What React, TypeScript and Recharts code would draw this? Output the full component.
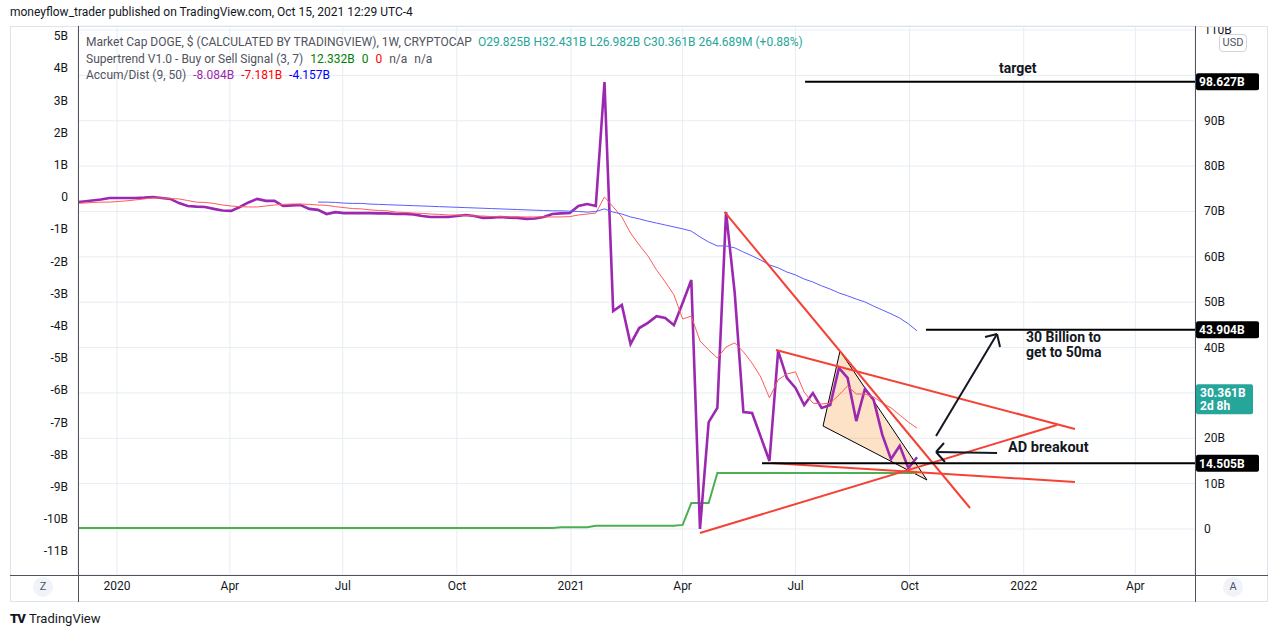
import React from 'react';
import {
  ComposedChart,
  Line,
  XAxis,
  YAxis,
  CartesianGrid,
  ReferenceLine,
  ReferenceArea,
} from 'recharts';

const FONT = '"Trebuchet MS", Roboto, "Noto Sans", sans-serif';

// x is "days since 2020-01-01"; first weekly bar sits just left of the visible range
const FIRST_WEEK_DAY = -34;
const X_MIN = -31.44;
const X_MAX = 869.07;

const xTicks = [0, 91, 182, 274, 366, 456, 547, 639, 731, 821];
const xTickLabels = ['2020', 'Apr', 'Jul', 'Oct', '2021', 'Apr', 'Jul', 'Oct', '2022', 'Apr'];

const leftTicks = [5, 4, 3, 2, 1, 0, -1, -2, -3, -4, -5, -6, -7, -8, -9, -10, -11];
const rightTicks = [0, 10, 20, 30, 40, 50, 60, 70, 80, 90, 100, 110];
// these sit under the price tags
const hiddenRightTicks = [30, 100];

// Accum/Dist (billions, left scale)
const adValues = [
  -0.17, -0.14, -0.11, -0.08, -0.03, -0.03, -0.03, -0.03, -0.02, 0.0,
  -0.03, -0.06, -0.19, -0.28, -0.3, -0.31, -0.37, -0.42, -0.43, -0.31,
  -0.17, -0.06, -0.12, -0.12, -0.28, -0.26, -0.25, -0.37, -0.4, -0.53,
  -0.47, -0.5, -0.5, -0.5, -0.5, -0.51, -0.51, -0.53, -0.53, -0.54,
  -0.59, -0.62, -0.62, -0.62, -0.59, -0.56, -0.59, -0.65, -0.64, -0.62,
  -0.64, -0.65, -0.68, -0.67, -0.62, -0.53, -0.51, -0.5, -0.28, -0.22,
  -0.28, 3.57, -3.54, -3.35, -4.57, -4.07, -3.91, -3.7, -3.76, -3.98,
  -3.29, -2.58, -10.31, -6.99, -6.55, -0.47, -2.98, -6.68, -6.71, -7.45,
  -8.2, -4.78, -5.62, -5.93, -6.46, -6.09, -6.55, -6.46, -5.31, -5.62,
  -6.96, -5.96, -6.3, -7.39, -8.14, -7.73, -8.42, -8.084,
];

// 9 period average of A/D
const adMa9 = [
  -0.19, -0.19, -0.17, -0.16, -0.16, -0.14, -0.12, -0.09, -0.06, -0.03,
  -0.03, -0.05, -0.06, -0.11, -0.16, -0.17, -0.2, -0.25, -0.28, -0.3,
  -0.31, -0.31, -0.28, -0.25, -0.23, -0.22, -0.22, -0.23, -0.25, -0.26,
  -0.3, -0.33, -0.36, -0.37, -0.4, -0.42, -0.43, -0.47, -0.48, -0.5,
  -0.51, -0.53, -0.54, -0.56, -0.56, -0.57, -0.59, -0.59, -0.61, -0.61,
  -0.62, -0.62, -0.62, -0.62, -0.62, -0.62, -0.62, -0.61, -0.56, -0.53,
  -0.5, 0.0, -0.31, -0.62, -1.12, -1.49, -1.83, -2.27, -2.64, -3.04,
  -3.79, -3.7, -4.47, -4.75, -5.0, -4.66, -4.53, -4.81, -5.16, -5.59,
  -6.24, -5.68, -5.5, -5.43, -6.06, -6.4, -6.43, -6.4, -6.15, -5.87,
  -6.12, -6.12, -6.21, -6.4, -6.55, -6.77, -6.99, -7.181,
];

// 50 period average, starts at week 28
const MA50_START = 28;
const adMa50 = [
  -0.16, -0.16, -0.17, -0.19, -0.2, -0.2, -0.22, -0.23, -0.24, -0.25,
  -0.26, -0.27, -0.28, -0.29, -0.3, -0.31, -0.32, -0.33, -0.34, -0.35,
  -0.36, -0.37, -0.38, -0.39, -0.4, -0.41, -0.42, -0.43, -0.43, -0.44,
  -0.45, -0.47, -0.45, -0.37, -0.47, -0.53, -0.62, -0.68, -0.75, -0.81,
  -0.87, -0.93, -0.99, -1.06, -1.24, -1.4, -1.52, -1.52, -1.58, -1.71,
  -1.83, -1.96, -2.11, -2.2, -2.33, -2.42, -2.55, -2.64, -2.76, -2.86,
  -2.98, -3.07, -3.17, -3.26, -3.39, -3.51, -3.63, -3.76, -3.94, -4.157,
];

// Supertrend (billions, right scale)
const supertrend = [
  0.2, 0.2, 0.2, 0.2, 0.2, 0.2, 0.2, 0.2, 0.2, 0.2,
  0.2, 0.2, 0.2, 0.2, 0.2, 0.2, 0.2, 0.2, 0.2, 0.2,
  0.2, 0.2, 0.2, 0.2, 0.2, 0.2, 0.2, 0.2, 0.2, 0.2,
  0.2, 0.2, 0.2, 0.2, 0.2, 0.2, 0.2, 0.2, 0.2, 0.2,
  0.2, 0.2, 0.2, 0.2, 0.2, 0.2, 0.2, 0.2, 0.2, 0.2,
  0.2, 0.2, 0.2, 0.2, 0.2, 0.2, 0.4, 0.4, 0.4, 0.4,
  0.7, 0.7, 0.7, 0.7, 0.7, 0.7, 0.7, 0.7, 0.7, 0.7,
  0.9, 5.73, 5.73, 5.73, 12.33, 12.33, 12.33, 12.33, 12.33, 12.33,
  12.33, 12.33, 12.33, 12.33, 12.33, 12.33, 12.33, 12.33, 12.33, 12.33,
  12.33, 12.33, 12.33, 12.33, 12.33, 12.33, 12.33, 12.332,
];

// drawings, in [day, right-scale value]
const redTrendLines = [
  [[489.8, 69.89], [687.7, 4.63]],
  [[531.3, 39.46], [772.3, 22.05]],
  [[470.0, -0.88], [757.8, 22.93]],
  [[527.2, 14.55], [772.3, 10.36]],
];

const blackLevels = [
  { from: 554.7, value: 98.627 },
  { from: 652.2, value: 43.904 },
  { from: 520.0, value: 14.505 },
];

const arrowStrokes = [
  [[660.3, 20.5], [709.5, 42.99]],
  [[709.5, 42.99], [699.8, 42.33]],
  [[709.5, 42.99], [711.9, 40.12]],
  [[709.5, 16.75], [660.3, 16.98]],
  [[660.3, 16.98], [666.7, 18.96]],
  [[660.3, 16.98], [667.5, 14.77]],
];

const triangleDays = [582.9, 569.2, 653.0];
const triangleValues = [39.24, 22.71, 10.8];

const priceTags = [
  { value: 98.627, text: '98.627B', bg: '#000000' },
  { value: 43.904, text: '43.904B', bg: '#000000' },
  { value: 14.505, text: '14.505B', bg: '#000000' },
  { value: 30.361, text: '30.361B', sub: '2d 8h', bg: '#26a69a' },
];

const rows = adValues.map((ad, i) => ({
  day: FIRST_WEEK_DAY + 7 * i,
  ad,
  ma9: adMa9[i],
  ma50: i >= MA50_START ? adMa50[i - MA50_START] : null,
  st: supertrend[i],
}));

const fmtB = (v: number) => (v === 0 ? '0' : `${v}B`);

const RightTick = (props: any) => {
  const { x, y, payload } = props;
  if (hiddenRightTicks.includes(payload.value)) return <g />;
  return (
    <text x={x} y={y} dominantBaseline="central" textAnchor="start" fontSize={12} fill="#131722" fontFamily={FONT}>
      {fmtB(payload.value)}
    </text>
  );
};

const tagLabel = (text: string, bg: string, sub?: string) => (props: any) => {
  const vb = props.viewBox || {};
  const x = (vb.x || 0) + (vb.width || 0) + 1;
  const y = vb.y || 0;
  if (sub) {
    return (
      <g>
        <rect x={x} y={y - 7} width={57} height={30} rx={2} fill={bg} />
        <text x={x + 4} y={y + 2} dominantBaseline="central" fill="#fff" fontSize={12} fontWeight={700} fontFamily={FONT}>
          {text}
        </text>
        <text x={x + 4} y={y + 15} dominantBaseline="central" fill="#fff" fontSize={12} fontWeight={700} fontFamily={FONT}>
          {sub}
        </text>
      </g>
    );
  }
  return (
    <g>
      <rect x={x} y={y - 8.5} width={63} height={17} rx={2} fill={bg} />
      <text x={x + 3} y={y + 0.5} dominantBaseline="central" fill="#fff" fontSize={12} fontWeight={700} fontFamily={FONT}>
        {text}
      </text>
    </g>
  );
};

const triX1 = Math.min(...triangleDays);
const triX2 = Math.max(...triangleDays);
const triY1 = Math.min(...triangleValues);
const triY2 = Math.max(...triangleValues);

const TriangleShape = (props: any) => {
  const { x, y, width, height } = props;
  const pts = triangleDays
    .map((d, i) => {
      const px = x + ((d - triX1) / (triX2 - triX1)) * width;
      const py = y + ((triY2 - triangleValues[i]) / (triY2 - triY1)) * height;
      return `${px},${py}`;
    })
    .join(' ');
  return <polygon points={pts} fill="rgba(245,124,0,0.22)" stroke="#000" strokeWidth={1} />;
};

const abs = (s: React.CSSProperties): React.CSSProperties => ({ position: 'absolute', ...s });

const SEP = '#50535e';
const BORDER = '#e0e3eb';

export default function App() {
  return (
    <div style={abs({ left: 0, top: 0, width: 1280, height: 637, background: '#fff', fontFamily: FONT, overflow: 'hidden' })}>
      <div style={abs({ left: 10, top: 5, fontSize: 12, color: '#131722', whiteSpace: 'nowrap' })}>
        moneyflow_trader published on TradingView.com, Oct 15, 2021 12:29 UTC-4
      </div>

      <div style={abs({ left: 0, top: 0 })}>
        <ComposedChart
          width={1280}
          height={637}
          data={rows}
          margin={{ top: 26, right: 12, bottom: 35, left: 10 }}
          style={{ fontFamily: FONT }}
        >
          <CartesianGrid yAxisId="right" stroke="#e6edf3" />
          <XAxis
            dataKey="day"
            type="number"
            domain={[X_MIN, X_MAX]}
            allowDataOverflow
            ticks={xTicks}
            interval={0}
            tickFormatter={(v: number) => xTickLabels[xTicks.indexOf(v)] ?? ''}
            axisLine={false}
            tickLine={false}
            tickSize={0}
            tickMargin={6}
            height={27}
            tick={{ fontSize: 12, fill: '#131722' }}
          />
          <YAxis
            yAxisId="left"
            orientation="left"
            width={68}
            domain={[-11.74, 5.31]}
            allowDataOverflow
            ticks={leftTicks}
            interval={0}
            tickFormatter={fmtB}
            axisLine={false}
            tickLine={false}
            tickSize={0}
            tickMargin={10}
            tick={{ fontSize: 12, fill: '#131722' }}
          />
          <YAxis
            yAxisId="right"
            orientation="right"
            width={73}
            domain={[-10.14, 110.89]}
            allowDataOverflow
            ticks={rightTicks}
            interval={0}
            axisLine={false}
            tickLine={false}
            tickSize={0}
            tickMargin={9}
            tick={<RightTick />}
          />

          <Line yAxisId="right" dataKey="st" stroke="#4caf50" strokeWidth={2} dot={false} activeDot={false} isAnimationActive={false} />
          <Line yAxisId="left" dataKey="ad" stroke="#9c27b0" strokeWidth={2.6} dot={false} activeDot={false} isAnimationActive={false} />
          <Line yAxisId="left" dataKey="ma9" stroke="#ff5a5a" strokeWidth={1} dot={false} activeDot={false} isAnimationActive={false} />
          <Line yAxisId="left" dataKey="ma50" stroke="#5c5cff" strokeWidth={1} dot={false} activeDot={false} isAnimationActive={false} />

          <ReferenceArea
            yAxisId="right"
            x1={triX1}
            x2={triX2}
            y1={triY1}
            y2={triY2}
            ifOverflow="visible"
            shape={<TriangleShape />}
          />

          {redTrendLines.map((seg, i) => (
            <ReferenceLine
              key={`r${i}`}
              yAxisId="right"
              ifOverflow="visible"
              segment={[{ x: seg[0][0], y: seg[0][1] }, { x: seg[1][0], y: seg[1][1] }]}
              stroke="#f44336"
              strokeWidth={2}
            />
          ))}
          {blackLevels.map((l, i) => (
            <ReferenceLine
              key={`b${i}`}
              yAxisId="right"
              ifOverflow="visible"
              segment={[{ x: l.from, y: l.value }, { x: X_MAX, y: l.value }]}
              stroke="#000"
              strokeWidth={2}
            />
          ))}
          {arrowStrokes.map((seg, i) => (
            <ReferenceLine
              key={`a${i}`}
              yAxisId="right"
              ifOverflow="visible"
              segment={[{ x: seg[0][0], y: seg[0][1] }, { x: seg[1][0], y: seg[1][1] }]}
              stroke="#131722"
              strokeWidth={2}
            />
          ))}
          {priceTags.map((t, i) => (
            <ReferenceLine
              key={`t${i}`}
              yAxisId="right"
              y={t.value}
              stroke="transparent"
              label={tagLabel(t.text, t.bg, t.sub)}
            />
          ))}
        </ComposedChart>
      </div>

      {/* hide the clipped top of the 110B label */}
      <div style={abs({ left: 1196, top: 14, width: 71, height: 12, background: '#fff' })} />

      {/* frame */}
      <div style={abs({ left: 10, top: 26, width: 1258, height: 576, border: `1px solid ${BORDER}`, boxSizing: 'border-box' })} />
      <div style={abs({ left: 78, top: 26, width: 1, height: 576, background: SEP })} />
      <div style={abs({ left: 1195, top: 26, width: 1, height: 576, background: SEP })} />
      <div style={abs({ left: 10, top: 575, width: 1258, height: 1, background: SEP })} />

      {/* legend */}
      <div style={abs({ left: 86, top: 34, fontSize: 12, lineHeight: '16.5px', color: '#50535e', whiteSpace: 'nowrap' })}>
        <div>
          Market Cap DOGE, $ (CALCULATED BY TRADINGVIEW), 1W, CRYPTOCAP
          <span style={{ color: '#26a69a', marginLeft: 6 }}>O29.825B H32.431B L26.982B C30.361B 264.689M (+0.88%)</span>
        </div>
        <div>
          Supertrend V1.0 - Buy or Sell Signal (3, 7)
          <span style={{ color: '#008000', marginLeft: 7 }}>12.332B</span>
          <span style={{ color: '#008000', marginLeft: 7 }}>0</span>
          <span style={{ color: '#ff0000', marginLeft: 7 }}>0</span>
          <span style={{ marginLeft: 7 }}>n/a</span>
          <span style={{ marginLeft: 7 }}>n/a</span>
        </div>
        <div>
          Accum/Dist (9, 50)
          <span style={{ color: '#9c27b0', marginLeft: 7 }}>-8.084B</span>
          <span style={{ color: '#ff0000', marginLeft: 7 }}>-7.181B</span>
          <span style={{ color: '#0000ff', marginLeft: 7 }}>-4.157B</span>
        </div>
      </div>

      {/* text annotations */}
      <div style={abs({ left: 999, top: 60, fontSize: 14, fontWeight: 700, color: '#131722' })}>target</div>
      <div style={abs({ left: 1026, top: 330, fontSize: 14, fontWeight: 700, color: '#131722', lineHeight: '15px' })}>
        30 Billion to
        <br />
        get to 50ma
      </div>
      <div style={abs({ left: 1008, top: 439, fontSize: 14.5, fontWeight: 700, color: '#131722' })}>AD breakout</div>

      {/* USD badge */}
      <div
        style={abs({
          left: 1219, top: 34, width: 26, height: 16, border: '1px solid #d1d4dc', borderRadius: 4,
          fontSize: 11, color: '#50535e', textAlign: 'center', lineHeight: '16px',
        })}
      >
        USD
      </div>

      {/* Z / A buttons */}
      <div style={abs({ left: 33, top: 577, width: 20, height: 20, borderRadius: 10, background: '#f0f3fa', fontSize: 11, color: '#50535e', textAlign: 'center', lineHeight: '20px' })}>Z</div>
      <div style={abs({ left: 1223, top: 577, width: 20, height: 20, borderRadius: 10, background: '#f0f3fa', fontSize: 11, color: '#50535e', textAlign: 'center', lineHeight: '20px' })}>A</div>

      {/* footer logo */}
      <div style={abs({ left: 10, top: 611, fontSize: 13, color: '#131722', whiteSpace: 'nowrap' })}>
        <span style={{ fontWeight: 900, letterSpacing: -1, marginRight: 4 }}>TV</span>TradingView
      </div>
    </div>
  );
}
